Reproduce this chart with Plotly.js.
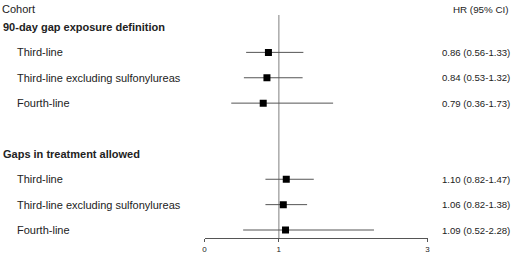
<!DOCTYPE html>
<html><head><meta charset="utf-8">
<script src="https://cdn.plot.ly/plotly-3.0.1.min.js"></script>
<style>html,body{margin:0;padding:0;background:#fff}#chart{width:520px;height:254px}</style>
</head><body><div id="chart"></div>
<script>
// Rows: index in the table (0 = first section header)
const sectionHeaders = ["90-day gap exposure definition", "Gaps in treatment allowed"];
const sectionRows = [0, 5];
const cohorts = ["Third-line", "Third-line excluding sulfonylureas", "Fourth-line",
                 "Third-line", "Third-line excluding sulfonylureas", "Fourth-line"];
const cohortRows = [1, 2, 3, 6, 7, 8];
const hr = [0.86, 0.84, 0.79, 1.10, 1.06, 1.09];
const ciLow = [0.56, 0.53, 0.36, 0.82, 0.82, 0.52];
const ciHigh = [1.33, 1.32, 1.73, 1.47, 1.38, 2.28];
const xTicks = [0, 1, 3];

const W = 520, H = 254;
const font = "Liberation Sans, Arial, sans-serif";
const txtColor = "#222";

const trace = {
  type: "scatter", mode: "markers",
  x: hr, y: cohortRows,
  marker: {symbol: "square", size: 7, color: "#000"},
  error_x: {
    type: "data", symmetric: false,
    array: hr.map((v, i) => ciHigh[i] - v),
    arrayminus: hr.map((v, i) => v - ciLow[i]),
    thickness: 1, width: 0, color: "#555"
  },
  hoverinfo: "skip"
};

const annotations = [];
annotations.push({xref: "paper", yref: "paper", x: 0, y: 1 - 9 / H, xanchor: "left", yanchor: "middle",
  text: "Cohort", showarrow: false, font: {family: font, size: 11, color: txtColor}});
annotations.push({xref: "paper", yref: "paper", x: 511 / W, y: 1 - 9 / H, xanchor: "right", yanchor: "middle",
  text: "HR (95% CI)", showarrow: false, font: {family: font, size: 9.8, color: txtColor}});
sectionHeaders.forEach((t, i) => annotations.push({
  xref: "paper", yref: "y", x: 1 / W, y: sectionRows[i], xanchor: "left", yanchor: "middle",
  text: "<b>" + t + "</b>", showarrow: false, font: {family: font, size: 11, color: txtColor}}));
cohorts.forEach((t, i) => {
  annotations.push({xref: "paper", yref: "y", x: 15 / W, y: cohortRows[i], xanchor: "left", yanchor: "middle",
    text: t, showarrow: false, font: {family: font, size: 11, color: txtColor}});
  annotations.push({xref: "paper", yref: "y", x: 512 / W, y: cohortRows[i], xanchor: "right", yanchor: "middle",
    text: hr[i].toFixed(2) + " (" + ciLow[i].toFixed(2) + "-" + ciHigh[i].toFixed(2) + ")",
    showarrow: false, font: {family: font, size: 9.6, color: txtColor}});
});

const layout = {
  width: W, height: H,
  margin: {l: 0, r: 0, t: 0, b: 0},
  paper_bgcolor: "#fff", plot_bgcolor: "#fff",
  showlegend: false,
  xaxis: {
    domain: [204.5 / W, 427.5 / W], range: [0, 3],
    tickvals: xTicks, ticktext: xTicks.map(String),
    ticks: "outside", ticklen: 3, tickcolor: "#555", tickwidth: 1,
    showline: true, linecolor: "#555", linewidth: 1,
    showgrid: false, zeroline: false,
    tickfont: {family: font, size: 8, color: txtColor}
  },
  yaxis: {
    domain: [1 - 238 / H, 1 - 15 / H], range: [8.315, -0.473],
    visible: false, showgrid: false, zeroline: false
  },
  shapes: [{type: "line", xref: "x", yref: "y domain", x0: 1, x1: 1, y0: 0, y1: 1,
    line: {color: "#aaa", width: 1.5}, layer: "below"}],
  annotations: annotations
};

Plotly.newPlot("chart", [trace], layout, {staticPlot: true, displayModeBar: false});
</script></body></html>
